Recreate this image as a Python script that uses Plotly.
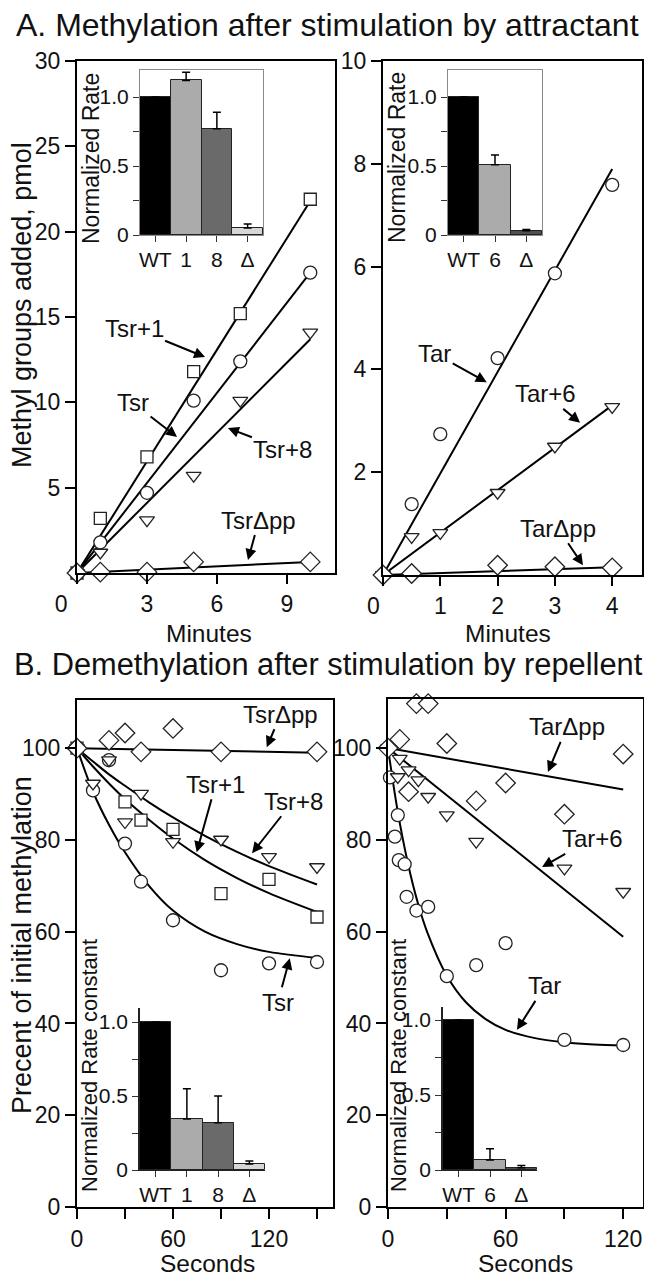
import plotly.graph_objects as go

# ---------------- DATA ----------------
# Panel A left (Tsr family), minutes vs pmol
tA = [0, 1, 3, 5, 7, 10]
tsr1_A = [0, 3.2, 6.8, 11.8, 15.2, 21.9]
tsr_A = [0, 1.8, 4.7, 10.1, 12.4, 17.6]
tsr8_A = [0, 1.2, 3.1, 5.7, 10.1, 14.1]
t_tsrdpp_A = [0, 1, 3, 5, 10]
tsrdpp_A = [0, 0.05, 0.05, 0.65, 0.65]
fitA_t = [0, 10]
fit_tsr1_A = [0, 21.8]
fit_tsr_A = [0, 17.6]
fit_tsr8_A = [0, 13.7]
fit_tsrdpp_A = [0, 0.65]

# Panel A right (Tar family)
tA2 = [0, 0.5, 1, 2, 3, 4]
tar_A = [0, 1.38, 2.74, 4.22, 5.87, 7.59]
tar6_A = [0, 0.74, 0.82, 1.6, 2.5, 3.27]
t_tardpp_A = [0, 0.5, 2, 3, 4]
tardpp_A = [0, 0.03, 0.19, 0.16, 0.14]
fitA2_t = [0, 4]
fit_tar_A = [0, 7.9]
fit_tar6_A = [0, 3.3]
fit_tardpp_A = [0, 0.15]

# Panel B left (Tsr family), seconds vs percent
t_tsr_B = [0, 10, 20, 30, 40, 60, 90, 120, 150]
tsr_B = [100, 90.8, 97.4, 79.2, 70.9, 62.5, 51.6, 53.1, 53.4]
t_tsr1_B = [0, 30, 40, 60, 90, 120, 150]
tsr1_B = [100, 88.3, 84.3, 82.3, 68.3, 71.4, 63.2]
t_tsr8_B = [0, 10, 20, 30, 40, 60, 90, 120, 150]
tsr8_B = [100, 92.3, 97.4, 83.9, 90.1, 79.6, 80.1, 76.3, 74.1]
t_tsrdpp_B = [0, 20, 30, 40, 60, 90, 150]
tsrdpp_B = [100, 101.7, 103.3, 99.2, 104.3, 99.2, 99.2]
fitB_t = [0, 10, 20, 30, 45, 60, 80, 100, 120, 150]
fit_tsr_B = [100, 90.5, 83.3, 77.3, 70.0, 64.6, 60.0, 57.3, 55.6, 54.3]
fit_tsr1_B = [100, 96.0, 92.3, 88.9, 84.4, 80.3, 75.6, 71.7, 68.4, 64.3]
fit_tsr8_B = [100, 97.1, 94.3, 91.8, 88.2, 84.9, 80.9, 77.4, 74.3, 70.3]
fit_tsrdpp_t = [0, 150]
fit_tsrdpp_B = [100, 99.0]

# Panel B right (Tar family)
t_tar_B = [0, 1, 3.5, 5, 5.5, 8.5, 9.5, 14.5, 20.5, 30, 45, 60, 90, 120]
tar_B = [100, 93.6, 80.7, 85.4, 75.6, 74.7, 67.6, 64.6, 65.4, 50.3, 52.7, 57.5, 36.4, 35.3]
t_tar6_B = [0, 5, 6, 10.5, 15.5, 20.5, 30, 45, 90, 120]
tar6_B = [100, 93.7, 97.7, 95.2, 93.0, 89.4, 85.4, 79.6, 73.8, 68.7]
t_tardpp_B = [0, 6, 10.5, 14.5, 20.5, 30, 45, 60, 90, 120]
tardpp_B = [100, 101.9, 90.5, 109.7, 109.7, 101.0, 88.5, 92.4, 85.6, 98.7]
fit_tar_t = [0, 5, 10, 15, 20, 30, 40, 50, 60, 75, 90, 105, 120]
fit_tar_B = [100, 86.1, 75.2, 66.6, 59.9, 50.4, 44.5, 40.9, 38.6, 36.8, 35.9, 35.4, 35.2]
fit_line_t = [0, 120]
fit_tar6_B = [100, 58.9]
fit_tardpp_B = [100, 91.0]

# Insets (normalized rates)
ins_tsr_cats = ["WT", "1", "8", "Δ"]
ins_A1_vals = [1.0, 1.12, 0.77, 0.05]
ins_A1_err = [0, 0.06, 0.12, 0.03]
ins_tar_cats = ["WT", "6", "Δ"]
ins_A2_vals = [1.0, 0.51, 0.03]
ins_A2_err = [0, 0.07, 0.01]
ins_B1_vals = [1.0, 0.345, 0.32, 0.04]
ins_B1_err = [0, 0.205, 0.18, 0.02]
ins_B2_vals = [1.0, 0.067, 0.015]
ins_B2_err = [0, 0.075, 0.015]

tsr_colors = ["#000000", "#ababab", "#6a6a6a", "#d6d6d6"]
tar_colors = ["#000000", "#ababab", "#505050"]

# ---------------- LAYOUT HELPERS ----------------
W, H = 652, 1275
OFF = 8  # page body margin in the browser
FONT = "Liberation Sans, Arial, sans-serif"


def dx(a, b):
    return [(a - OFF) / W, (b - OFF) / W]


def dy(top, bottom):
    return [1 - (bottom - OFF) / H, 1 - (top - OFF) / H]


NB = "\u00a0"

main_axis = dict(showline=True, linecolor="black", linewidth=2, mirror=True,
                 ticks="outside", ticklen=10, tickwidth=2, tickcolor="black",
                 showgrid=False, zeroline=False, automargin=False,
                 tickfont=dict(size=23, color="#111", family=FONT))

fig = go.Figure()


def pts(x, y, ax, symbol, size):
    fig.add_trace(go.Scatter(x=x, y=y, mode="markers", xaxis="x" + ax, yaxis="y" + ax,
                             marker=dict(symbol=symbol, size=size, color="white",
                                         line=dict(color="#222", width=1.3)),
                             cliponaxis=False, showlegend=False))


def line(x, y, ax, spline=False):
    fig.add_trace(go.Scatter(x=x, y=y, mode="lines", xaxis="x" + ax, yaxis="y" + ax,
                             line=dict(color="black", width=2,
                                       shape="spline" if spline else "linear"),
                             cliponaxis=False, showlegend=False))


# Panel A left
line(fitA_t, fit_tsr1_A, "")
line(fitA_t, fit_tsr_A, "")
line(fitA_t, fit_tsr8_A, "")
line(fitA_t, fit_tsrdpp_A, "")
pts(tA, tsr1_A, "", "square", 12)
pts(tA, tsr_A, "", "circle", 13)
pts(tA, tsr8_A, "", "triangle-down", 13)
pts(t_tsrdpp_A, tsrdpp_A, "", "diamond", 15)

# Panel A right
line(fitA2_t, fit_tar_A, "2")
line(fitA2_t, fit_tar6_A, "2")
line(fitA2_t, fit_tardpp_A, "2")
pts(tA2, tar_A, "2", "circle", 13)
pts(tA2, tar6_A, "2", "triangle-down", 13)
pts(t_tardpp_A, tardpp_A, "2", "diamond", 15)

# Panel B left
line(fitB_t, fit_tsr_B, "3", True)
line(fitB_t, fit_tsr1_B, "3", True)
line(fitB_t, fit_tsr8_B, "3", True)
line(fit_tsrdpp_t, fit_tsrdpp_B, "3")
pts(t_tsr_B, tsr_B, "3", "circle", 13)
pts(t_tsr1_B, tsr1_B, "3", "square", 12)
pts(t_tsr8_B, tsr8_B, "3", "triangle-down", 13)
pts(t_tsrdpp_B, tsrdpp_B, "3", "diamond", 15)

# Panel B right
line(fit_tar_t, fit_tar_B, "4", True)
line(fit_line_t, fit_tar6_B, "4")
line(fit_line_t, fit_tardpp_B, "4")
pts(t_tar_B, tar_B, "4", "circle", 13)
pts(t_tar6_B, tar6_B, "4", "triangle-down", 13)
pts(t_tardpp_B, tardpp_B, "4", "diamond", 15)


def bars(cats, vals, err, colors, ax):
    fig.add_trace(go.Bar(x=cats, y=vals, xaxis="x" + ax, yaxis="y" + ax, width=1.0,
                         marker=dict(color=colors, line=dict(color="#222", width=1)),
                         error_y=dict(type="data", array=err, arrayminus=[0] * len(err),
                                      symmetric=False, color="black", thickness=1.5, width=4),
                         showlegend=False))


bars(ins_tsr_cats, ins_A1_vals, ins_A1_err, tsr_colors, "5")
bars(ins_tar_cats, ins_A2_vals, ins_A2_err, tar_colors, "6")
bars(ins_tsr_cats, ins_B1_vals, ins_B1_err, tsr_colors, "7")
bars(ins_tar_cats, ins_B2_vals, ins_B2_err, tar_colors, "8")

layout = dict(width=W, height=H, autosize=False,
              margin=dict(l=0, r=0, t=0, b=0, pad=0, autoexpand=False),
              paper_bgcolor="white", plot_bgcolor="rgba(0,0,0,0)",
              font=dict(family=FONT, color="#111"), bargap=0, showlegend=False)

# main axes
layout["xaxis"] = dict(main_axis, domain=dx(77, 335), range=[0, 11.06], ticklen=9,
                       tickvals=[0, 3, 6, 9], ticktext=["0" + NB * 5, "3", "6", "9"], anchor="y")
layout["yaxis"] = dict(main_axis, domain=dy(61, 573), range=[0, 30],
                       tickvals=[5, 10, 15, 20, 25, 30], anchor="x")
layout["xaxis2"] = dict(main_axis, domain=dx(383, 642), range=[0, 4.52], ticklen=9,
                        tickvals=[0, 1, 2, 3, 4], ticktext=["0" + NB * 3, "1", "2", "3", "4"], anchor="y2")
layout["yaxis2"] = dict(main_axis, domain=dy(61, 575), range=[0, 10],
                        tickvals=[2, 4, 6, 8, 10], anchor="x2")
layout["xaxis3"] = dict(main_axis, domain=dx(77, 333), range=[0, 160],
                        tickvals=[0, 30, 60, 90, 120, 150], ticktext=["0", "", "60", "", "120", ""],
                        anchor="y3", ticklen=10)
layout["yaxis3"] = dict(main_axis, domain=dy(700, 1207), range=[0, 110.5],
                        tickvals=[0, 20, 40, 60, 80, 100], anchor="x3")
layout["xaxis4"] = dict(main_axis, domain=dx(388, 643), range=[0, 130.1],
                        tickvals=[0, 30, 60, 90, 120], ticktext=["0", "", "60", "", "120"],
                        anchor="y4", ticklen=10)
layout["yaxis4"] = dict(main_axis, domain=dy(699, 1207), range=[0, 110.7],
                        tickvals=[0, 20, 40, 60, 80, 100], anchor="x4")

# inset axes
inset_y_ticks = dict(tickvals=[0, 0.25, 0.5, 0.75, 1.0], ticktext=["0", "", "0.5", "", "1.0"])
insA_x = dict(showline=True, linecolor="#8a8a8a", linewidth=1, mirror=True, ticks="outside",
              ticklen=6, tickwidth=1, tickcolor="#333", showgrid=False, zeroline=False,
              automargin=False,
              tickfont=dict(size=21, family=FONT, color="#111"), type="category")
insA_y = dict(showline=True, linecolor="#8a8a8a", linewidth=1, mirror=True, ticks="outside",
              ticklen=6, tickwidth=1, tickcolor="#333", showgrid=False, zeroline=False,
              automargin=False,
              tickfont=dict(size=21, family=FONT, color="#111"), **inset_y_ticks)
insB_x = dict(insA_x, linecolor="#222", mirror=False)
insB_y = dict(insA_y, linecolor="#222", linewidth=1.5, mirror=False)

layout["xaxis5"] = dict(insA_x, domain=dx(140, 263), range=[-0.5, 3.5], anchor="y5",
                        categoryorder="array", categoryarray=ins_tsr_cats)
layout["yaxis5"] = dict(insA_y, domain=dy(70, 235), range=[0, 1.196], anchor="x5")
layout["xaxis6"] = dict(insA_x, domain=dx(448, 542), range=[-0.5, 2.5], anchor="y6",
                        categoryorder="array", categoryarray=ins_tar_cats)
layout["yaxis6"] = dict(insA_y, domain=dy(70, 235), range=[0, 1.196], anchor="x6")
layout["xaxis7"] = dict(insB_x, domain=dx(140, 265), range=[-0.5, 3.5], anchor="y7",
                        categoryorder="array", categoryarray=ins_tsr_cats)
layout["yaxis7"] = dict(insB_y, domain=dy(1008, 1170), range=[0, 1.095], anchor="x7")
layout["xaxis8"] = dict(insB_x, domain=dx(443, 537), range=[-0.5, 2.5], anchor="y8",
                        categoryorder="array", categoryarray=ins_tar_cats)
layout["yaxis8"] = dict(insB_y, domain=dy(1007, 1170), range=[0, 1.087], anchor="x8")

fig.update_layout(**layout)


# ---------------- TEXT ----------------
def ptext(text, px, py, size, angle=0, xanchor="center", pad=1):
    fig.add_annotation(text=text, x=(px - OFF) / W, y=1 - (py - OFF) / H,
                       xref="paper", yref="paper", borderpad=pad,
                       showarrow=False, textangle=angle, xanchor=xanchor, yanchor="middle",
                       font=dict(size=size, family=FONT, color="#111"))


ptext("A. Methylation after stimulation by attractant", 14, 25, 32, xanchor="left")
ptext("B. Demethylation after stimulation by repellent", 12, 664, 30.8, xanchor="left")
ptext("Methyl groups added, pmol", 22, 305, 27, angle=-90)
ptext("Precent of initial methylation", 22, 945, 27, angle=-90)
ptext("Minutes", 209, 633, 24.5, pad=0)
ptext("Minutes", 508, 633, 24.5, pad=0)
ptext("Seconds", 207, 1263, 24.5, pad=0)
ptext("Seconds", 525, 1263, 24.5, pad=0)
ptext("Normalized Rate", 91, 158, 23, angle=-90)
ptext("Normalized Rate", 397, 158, 23, angle=-90)
ptext("Normalized Rate constant", 89, 1066, 22, angle=-90)
ptext("Normalized Rate constant", 398, 1066, 22, angle=-90)


def arrow(text, ax_id, x, y, ox, oy):
    fig.add_annotation(text=text, x=x, y=y, xref="x" + ax_id, yref="y" + ax_id,
                       ax=ox, ay=oy, showarrow=True, arrowhead=2, arrowsize=1.1,
                       arrowwidth=2, arrowcolor="black", standoff=0,
                       font=dict(size=24, family=FONT, color="#111"))


arrow("Tsr+1", "", 5.49, 12.65, -71, -29)
arrow("Tsr", "", 4.29, 7.97, -44, -34)
arrow("Tsr+8", "", 6.47, 8.49, 55, 21)
arrow("TsrΔpp", "", 7.33, 0.76, 11, -40)
arrow("Tar", "2", 1.81, 3.75, -52, -29)
arrow("Tar+6", "2", 3.44, 2.96, -35, -29)
arrow("TarΔpp", "2", 3.49, 0.19, -25, -37)
arrow("TsrΔpp", "3", 118.6, 100.2, 14, -33)
arrow("Tsr+1", "3", 74.8, 77.3, 19, -68)
arrow("Tsr+8", "3", 109.4, 77.1, 41, -52)
arrow("Tsr", "3", 133, 54.2, -12, 44)
arrow("TarΔpp", "4", 81.6, 94.8, 19, -45)
arrow("Tar+6", "4", 78.6, 74.1, 50, -28)
arrow("Tar", "4", 65.8, 38.6, 28, -44)

fig.write_html("out.html")
